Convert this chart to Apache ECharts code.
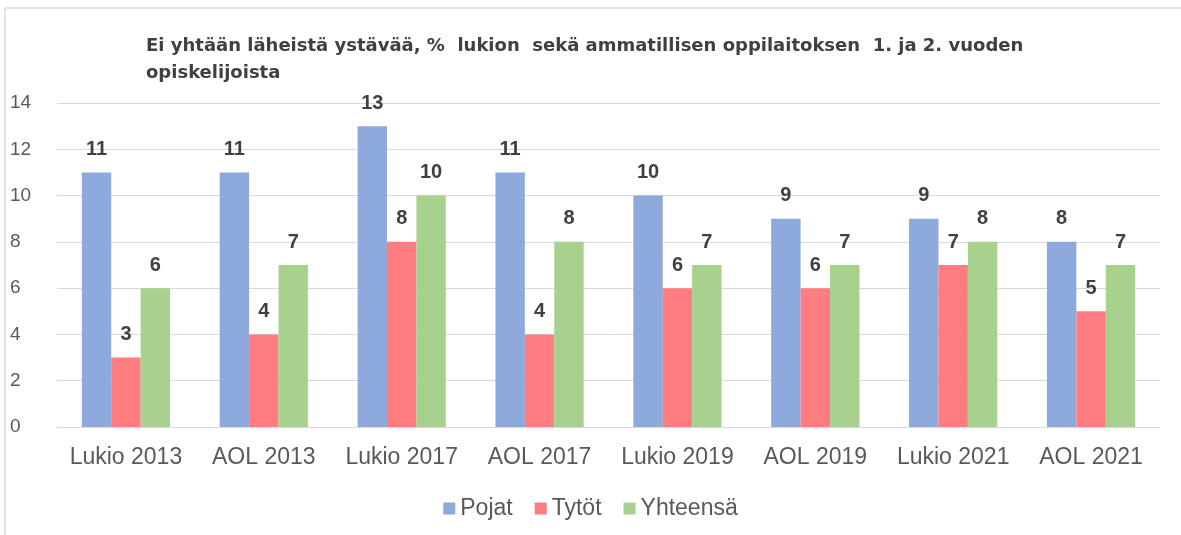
<!DOCTYPE html>
<html>
<head>
<meta charset="utf-8">
<script src="https://cdn.jsdelivr.net/npm/echarts@6/dist/echarts.min.js"></script>
<style>
  html, body { margin: 0; padding: 0; background: #fff; }
  #chart { width: 1181px; height: 535px; }
</style>
</head>
<body>
<div id="chart"></div>
<script>
// luokat ja arvot
var categories = ['Lukio 2013', 'AOL 2013', 'Lukio 2017', 'AOL 2017', 'Lukio 2019', 'AOL 2019', 'Lukio 2021', 'AOL 2021'];
var pojat = [11, 11, 13, 11, 10, 9, 9, 8];
var tytot = [3, 4, 8, 4, 6, 6, 7, 5];
var yhteensa = [6, 7, 10, 8, 7, 7, 8, 7];

var chart = echarts.init(document.getElementById('chart'));

var labelStyle = {
  show: true,
  position: 'top',
  distance: 13,
  color: '#404040',
  fontSize: 20,
  fontWeight: 'bold',
  fontFamily: 'Liberation Sans'
};

chart.setOption({
  animation: false,
  textStyle: { fontFamily: 'Liberation Sans' },
  graphic: [
    { type: 'line', shape: { x1: 5, y1: 8, x2: 1181, y2: 8 }, style: { stroke: '#d9d9d9', lineWidth: 1.5 }, z: -1 },
    { type: 'line', shape: { x1: 5, y1: 8, x2: 5, y2: 535 }, style: { stroke: '#d9d9d9', lineWidth: 1.5 }, z: -1 }
  ],
  title: {
    text: 'Ei yhtään läheistä ystävää, %  lukion  sekä ammatillisen oppilaitoksen  1. ja 2. vuoden\nopiskelijoista',
    left: 141,
    top: 28,
    textStyle: { color: '#404040', fontSize: 18, fontWeight: 'bold', lineHeight: 27, fontFamily: 'DejaVu Sans' }
  },
  legend: {
    bottom: 10,
    left: 'center',
    itemWidth: 12,
    itemHeight: 12,
    itemGap: 22,
    icon: 'rect',
    textStyle: { color: '#595959', fontSize: 23 },
    data: ['Pojat', 'Tytöt', 'Yhteensä']
  },
  grid: { left: 57, right: 21, top: 103, bottom: 108, containLabel: false },
  xAxis: {
    type: 'category',
    data: categories,
    axisLine: { lineStyle: { color: '#d9d9d9' } },
    axisTick: { show: false },
    axisLabel: { color: '#595959', fontSize: 23, margin: 19, interval: 0 }
  },
  yAxis: {
    type: 'value',
    min: 0,
    max: 14,
    interval: 2,
    axisLabel: { color: '#595959', fontSize: 19, margin: 47, align: 'left' },
    splitLine: { lineStyle: { color: '#d9d9d9' } },
    axisLine: { show: false },
    axisTick: { show: false }
  },
  series: [
    { name: 'Pojat', type: 'bar', data: pojat, itemStyle: { color: '#8EA9DB' }, barGap: 0, barCategoryGap: '36%', label: labelStyle },
    { name: 'Tytöt', type: 'bar', data: tytot, itemStyle: { color: '#FF7C80' }, barGap: 0, barCategoryGap: '36%', label: labelStyle },
    { name: 'Yhteensä', type: 'bar', data: yhteensa, itemStyle: { color: '#A9D18E' }, barGap: 0, barCategoryGap: '36%', label: labelStyle }
  ]
});
</script>
</body>
</html>
